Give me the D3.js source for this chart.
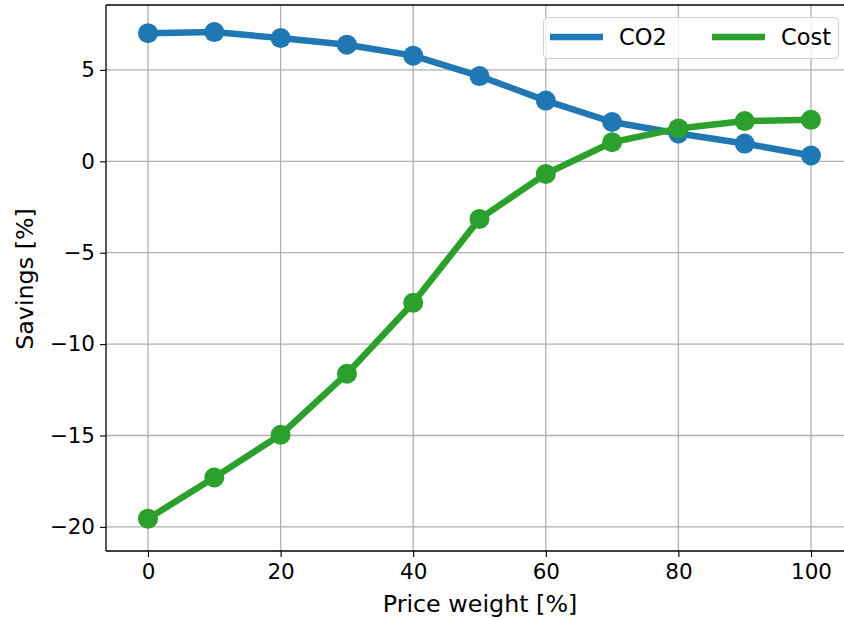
<!DOCTYPE html>
<html><head><meta charset="utf-8">
<script src="https://cdn.jsdelivr.net/npm/d3@7"></script>
<style>body{margin:0;background:#fff}svg{display:block}text{font-family:"DejaVu Sans",sans-serif}</style>
</head><body>
<script>
const weights = [0,10,20,30,40,50,60,70,80,90,100];
const co2 = [7.01,7.07,6.74,6.38,5.78,4.66,3.32,2.15,1.52,0.97,0.32];
const cost = [-19.55,-17.3,-14.96,-11.62,-7.74,-3.15,-0.69,1.04,1.80,2.20,2.27];
const xTicks = [0,20,40,60,80,100];
const yTicks = [5,0,-5,-10,-15,-20];
const seriesNames = ["CO2","Cost"];
const colors = ["#1f77b4","#2ca02c"];

const W=844,H=619;
const svg=d3.select("body").append("svg").attr("width",W).attr("height",H);
const L=106,T=5,B=551,R=860;
const x=d3.scaleLinear().domain([0,100]).range([148,811]);
const y=d3.scaleLinear().domain([0,-20]).range([161.3,526.9]);

const g=svg.append("g");
g.selectAll(".gx").data(xTicks).join("line").attr("x1",d=>x(d)).attr("x2",d=>x(d)).attr("y1",T).attr("y2",B).attr("stroke","#b0b0b0").attr("stroke-width",1.3);
g.selectAll(".gy").data(yTicks).join("line").attr("x1",L).attr("x2",R).attr("y1",d=>y(d)).attr("y2",d=>y(d)).attr("stroke","#b0b0b0").attr("stroke-width",1.3);

const fmt=d=>d<0?"\u2212"+Math.abs(d):String(d);
const xa=svg.append("g").attr("transform",`translate(0,${B})`).call(d3.axisBottom(x).tickValues(xTicks).tickSize(6).tickPadding(4).tickFormat(fmt));
const ya=svg.append("g").attr("transform",`translate(${L},0)`).call(d3.axisLeft(y).tickValues(yTicks).tickSize(6).tickPadding(5).tickFormat(fmt));
[xa,ya].forEach(a=>{a.select(".domain").remove();a.selectAll("line").attr("stroke","#000").attr("stroke-width",1.1);a.selectAll("text").attr("font-size",21.5).attr("fill","#000").attr("font-family","DejaVu Sans");});
xa.selectAll("text").attr("dy","0.85em");
svg.append("line").attr("x1",L).attr("x2",L).attr("y1",T).attr("y2",B).attr("stroke","#000").attr("stroke-width",1.3);
svg.append("line").attr("x1",L).attr("x2",R).attr("y1",B).attr("y2",B).attr("stroke","#000").attr("stroke-width",1.3);
svg.append("line").attr("x1",L).attr("x2",R).attr("y1",T).attr("y2",T).attr("stroke","#000").attr("stroke-width",1.3);

const data=[co2,cost];
const line=d3.line().x((d,i)=>x(weights[i])).y(d=>y(d));
data.forEach((s,k)=>{
  g.append("path").attr("d",line(s)).attr("fill","none").attr("stroke",colors[k]).attr("stroke-width",6.5).attr("stroke-linejoin","round");
  g.selectAll(null).data(s).join("circle").attr("cx",(d,i)=>x(weights[i])).attr("cy",d=>y(d)).attr("r",10).attr("fill",colors[k]);
});

svg.append("text").attr("x",480).attr("y",612).attr("text-anchor","middle").attr("font-size",23.8).text("Price weight [%]");
svg.append("text").attr("transform","translate(33,279) rotate(-90)").attr("text-anchor","middle").attr("font-size",23.8).text("Savings [%]");

const lg=svg.append("g");
lg.append("rect").attr("x",543.5).attr("y",17.5).attr("width",295).attr("height",41).attr("rx",4).attr("fill","rgba(255,255,255,0.8)").attr("stroke","#d0d0d0").attr("stroke-width",1);
const lx=[550,712];
seriesNames.forEach((n,k)=>{
  lg.append("line").attr("x1",lx[k]).attr("x2",lx[k]+53).attr("y1",37).attr("y2",37).attr("stroke",colors[k]).attr("stroke-width",6.5);
  lg.append("text").attr("x",lx[k]+69).attr("y",37).attr("dy","0.35em").attr("font-size",22.5).text(n);
});
</script>
</body></html>
